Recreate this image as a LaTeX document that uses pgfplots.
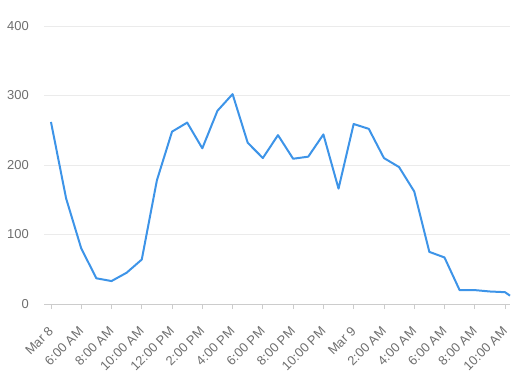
\documentclass[border=0pt]{standalone}
\usepackage{pgfplots}
\pgfplotsset{compat=1.18}
\usepackage{fontspec}
\setmainfont{Liberation Sans}
\definecolor{lineblue}{RGB}{61,148,232}
\definecolor{gridgray}{RGB}{235,235,235}
\definecolor{axisgray}{RGB}{204,204,204}
\definecolor{textgray}{RGB}{110,110,110}
\begin{document}
\begin{tikzpicture}
\useasboundingbox (0,0) rectangle (518bp,378bp);
\begin{axis}[
  at={(44bp,74bp)}, anchor=south west,
  scale only axis, width=466bp, height=278bp,
  xmin=-0.46, xmax=30.33, ymin=0, ymax=400,
  axis lines=left, axis line style={-},
  y axis line style={draw=none},
  x axis line style={draw=axisgray, line width=1bp},
  ytick={0,100,200,300,400},
  ymajorgrids, grid style={gridgray, line width=0.8bp},
  ytick style={draw=none},
  xtick={0,2,...,30},
  xticklabels={Mar 8,6:00 AM,8:00 AM,10:00 AM,12:00 PM,2:00 PM,4:00 PM,6:00 PM,8:00 PM,10:00 PM,Mar 9,2:00 AM,4:00 AM,6:00 AM,8:00 AM,10:00 AM},
  tick align=outside, major tick length=5bp,
  xtick style={draw=axisgray, line width=0.8bp},
  xticklabel style={yshift=-20bp, xshift=0bp, rotate=45, anchor=east, inner sep=0pt},
  yticklabel style={inner sep=0pt, xshift=-10bp},
  tick label style={font=\fontsize{13}{15}\selectfont, text=textgray},
  /pgf/number format/assume math mode=true,
  clip=false,
]
\addplot[lineblue, line width=2bp, line join=round] coordinates {
(0,262) (1,152) (2,80) (3,37) (4,33) (5,45) (6,64) (7,178) (8,248) (9,261)
(10,224) (11,278) (12,302) (13,232) (14,210) (15,243) (16,209) (17,212) (18,244) (19,166)
(20,259) (21,252) (22,210) (23,197) (24,162) (25,75) (26,67) (27,20) (28,20) (29,18)
(30,17) (30.33,12)
};
\end{axis}
\end{tikzpicture}
\end{document}
